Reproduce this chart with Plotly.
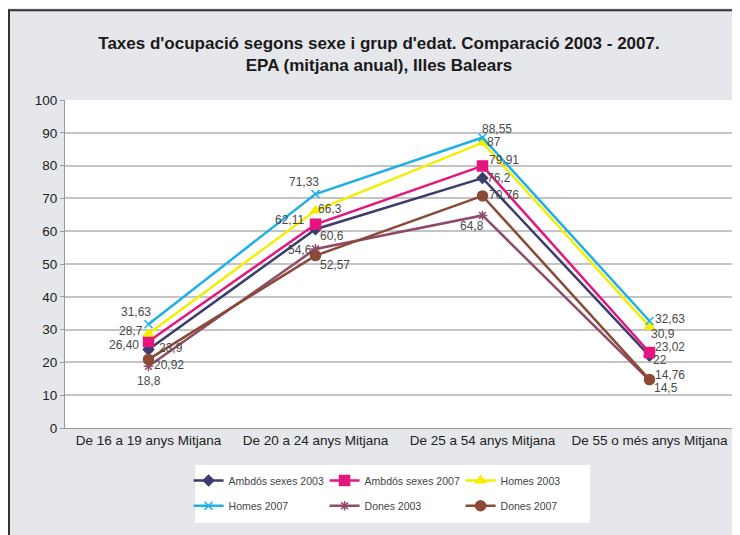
import plotly.graph_objects as go

# Data
categories = ["De 16 a 19 anys Mitjana", "De 20 a 24 anys Mitjana",
              "De 25 a 54 anys Mitjana", "De 55 o més anys Mitjana"]

ambdos_2003 = [23.9, 60.6, 76.2, 22]
ambdos_2007 = [26.40, 62.11, 79.91, 23.02]
homes_2003 = [28.7, 66.3, 87, 30.9]
homes_2007 = [31.63, 71.33, 88.55, 32.63]
dones_2003 = [18.8, 54.6, 64.8, 14.5]
dones_2007 = [20.92, 52.57, 70.76, 14.76]

labels_ambdos_2003 = ["23,9", "60,6", "76,2", "22"]
labels_ambdos_2007 = ["26,40", "62,11", "79,91", "23,02"]
labels_homes_2003 = ["28,7", "66,3", "87", "30,9"]
labels_homes_2007 = ["31,63", "71,33", "88,55", "32,63"]
labels_dones_2003 = ["18,8", "54,6", "64,8", "14,5"]
labels_dones_2007 = ["20,92", "52,57", "70,76", "14,76"]

# label offsets from the point in px (dx right, dy down)
series = [
    ("Ambdós sexes 2003", ambdos_2003, labels_ambdos_2003, "#3d3c6e", "diamond", 8,
     [(22, -2), (16, 7), (16, 0), (10, 4)], "legend"),
    ("Ambdós sexes 2007", ambdos_2007, labels_ambdos_2007, "#e5157f", "square", 10,
     [(-25, 4), (-26, -4), (21, -6), (20, -5)], "legend"),
    ("Homes 2003", homes_2003, labels_homes_2003, "#f4ee00", "triangle-up", 9,
     [(-18, -3), (14, -2), (11, -1), (13, 7)], "legend"),
    ("Homes 2007", homes_2007, labels_homes_2007, "#1eb0e6", "x-thin-open", 8,
     [(-13, -12), (-12, -12), (14, -9), (20, -2)], "legend2"),
    ("Dones 2003", dones_2003, labels_dones_2003, "#8e4b6b", "asterisk-open", 8,
     [(0, 15), (-16, 1), (-11, 11), (16, 8)], "legend2"),
    ("Dones 2007", dones_2007, labels_dones_2007, "#8a4a34", "circle", 10,
     [(20, 6), (19, 9), (21, -1), (20, -5)], "legend2"),
]

fig = go.Figure()

annotations = []
for name, vals, labs, color, symbol, size, offs, leg in series:
    fig.add_trace(go.Scatter(
        x=categories, y=vals, name=name, mode="lines+markers",
        line=dict(color=color, width=2.5),
        marker=dict(color=color, symbol=symbol, size=size,
                    line=dict(color=color, width=1.5)),
        legend=leg, cliponaxis=False,
    ))
    for cat, v, lab, (dx, dy) in zip(categories, vals, labs, offs):
        annotations.append(dict(
            x=cat, y=v, text=lab, showarrow=False,
            xshift=dx, yshift=-dy, xanchor="center", yanchor="middle",
            font=dict(family="Liberation Sans, Arial", size=12, color="#4a4a4a"),
        ))

title = "<b>Taxes d'ocupació segons sexe i grup d'edat. Comparació 2003 - 2007.</b><br>"
title += "<b>EPA (mitjana anual), Illes Balears</b>"

legend_style = dict(
    orientation="h", xanchor="left", yanchor="top",
    bgcolor="rgba(0,0,0,0)", entrywidth=91, itemwidth=30,
    font=dict(family="Liberation Sans, Arial", size=10.5, color="#444"),
    traceorder="normal",
)

# the page body adds an 8 px offset, so the figure is 8 px smaller
fig.update_layout(
    width=732, height=527,
    margin=dict(l=57, r=7, t=92, b=107),
    paper_bgcolor="#e5e7ea",
    plot_bgcolor="white",
    title=dict(text=title, x=371 / 732, xanchor="center", y=0.922, yanchor="top",
               font=dict(family="Liberation Sans, Arial", size=17, color="#1a1a1a")),
    legend=dict(x=0.185, y=-0.116, **legend_style),
    legend2=dict(x=0.185, y=-0.193, **legend_style),
    showlegend=True,
    annotations=annotations,
    shapes=[
        dict(type="rect", xref="paper", yref="paper",
             x0=0.195, x1=0.786, y0=-0.29, y1=-0.113,
             fillcolor="white", line=dict(width=0), layer="below"),
        dict(type="line", xref="paper", yref="paper",
             x0=-56 / 668, x1=-56 / 668, y0=-0.33, y1=1.275,
             line=dict(color="#333", width=2)),
        dict(type="line", xref="paper", yref="paper",
             x0=-57 / 668, x1=1.02, y0=1.274, y1=1.274,
             line=dict(color="#333", width=2)),
    ],
)

fig.update_xaxes(
    range=[-0.5, 3.5], automargin=False,
    showgrid=False, showline=True, linecolor="#9a9a9a", linewidth=1,
    ticks="",
    tickfont=dict(family="Liberation Sans, Arial", size=13.5, color="#222"),
)
fig.update_yaxes(
    range=[0, 100], dtick=10, automargin=False,
    showgrid=True, gridcolor="#c4c4c4", gridwidth=1.5,
    showline=True, linecolor="#9a9a9a", linewidth=1,
    ticks="outside", ticklen=4, tickcolor="#9a9a9a",
    tickfont=dict(family="Liberation Sans, Arial", size=13.5, color="#222"),
    zeroline=False,
)

fig.write_html("out.html")
